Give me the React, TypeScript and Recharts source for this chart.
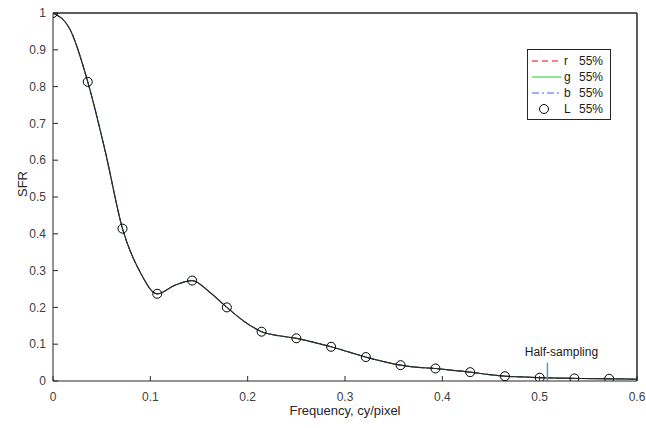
import { ComposedChart, Line, Scatter, XAxis, YAxis, ReferenceLine } from "recharts";

// --- SFR curve, sampled along frequency (cy/pixel) ---
const freq = [
  0, 0.0179, 0.0357, 0.0536, 0.0714, 0.0893, 0.1071, 0.125, 0.1429, 0.1607,
  0.1786, 0.1964, 0.2143, 0.2321, 0.25, 0.2679, 0.2857, 0.3036, 0.3214, 0.3393,
  0.3571, 0.375, 0.3929, 0.4107, 0.4286, 0.4464, 0.4643, 0.4821, 0.5, 0.5179,
  0.5357, 0.5536, 0.5714, 0.5893, 0.6
];
const sfrL = [
  1, 0.953, 0.813, 0.625, 0.414, 0.297, 0.237, 0.26, 0.273, 0.242,
  0.2, 0.162, 0.134, 0.123, 0.116, 0.105, 0.093, 0.079, 0.065, 0.053,
  0.043, 0.037, 0.034, 0.029, 0.024, 0.018, 0.013, 0.011, 0.009, 0.008,
  0.007, 0.0065, 0.006, 0.0055, 0.005
];
// r, g, b channels sit on top of the luminance curve
const sfrR = sfrL;
const sfrG = sfrL;
const sfrB = sfrL;

// --- circle markers on the L curve ---
const markerFreq = [
  0, 0.0357, 0.0714, 0.1071, 0.1429, 0.1786, 0.2143, 0.25, 0.2857, 0.3214,
  0.3571, 0.3929, 0.4286, 0.4643, 0.5, 0.5357, 0.5714
];
const markerSfr = [
  1, 0.813, 0.414, 0.237, 0.273, 0.2, 0.134, 0.116, 0.093, 0.065,
  0.043, 0.034, 0.024, 0.013, 0.009, 0.007, 0.006
];

const xTicks = [0, 0.1, 0.2, 0.3, 0.4, 0.5, 0.6];
const yTicks = [0, 0.1, 0.2, 0.3, 0.4, 0.5, 0.6, 0.7, 0.8, 0.9, 1];
const halfSampling = 0.508;
const legendItems = [
  { key: "r", label: "r", pct: "55%" },
  { key: "g", label: "g", pct: "55%" },
  { key: "b", label: "b", pct: "55%" },
  { key: "L", label: "L", pct: "55%" }
];

const curveRows = freq.map((f, i) => ({ f, r: sfrR[i], g: sfrG[i], b: sfrB[i], L: sfrL[i] }));
const markerRows = markerFreq.map((f, i) => ({ f, L: markerSfr[i] }));

const FONT = "'Liberation Sans', Arial, Helvetica, sans-serif";
const AXIS = "#262626";
const tickStyle = { fill: "#404040", fontSize: 12, fontFamily: FONT };

const Ring = (props: any) => {
  const { cx, cy } = props;
  if (cx == null || cy == null) return null;
  return <circle cx={cx} cy={cy} r={4.5} fill="none" stroke="#000" strokeWidth={1} />;
};

const LegendBox = () => (
  <div style={{ position: "absolute", left: 527, top: 49, width: 82, padding: "3px 0 2px", border: "1px solid #262626", background: "#fff", fontFamily: FONT, fontSize: 12, color: "#1a1a1a" }}>
    {legendItems.map((it) => (
      <div key={it.key} style={{ display: "flex", alignItems: "center", height: 16 }}>
        <svg width={36} height={16} style={{ flex: "none" }}>
          {it.key === "r" && <line x1={4} x2={33} y1={8} y2={8} stroke="#ff0000" strokeDasharray="6 4" />}
          {it.key === "g" && <line x1={4} x2={33} y1={8} y2={8} stroke="#22cc22" />}
          {it.key === "b" && <line x1={4} x2={33} y1={8} y2={8} stroke="#5555ff" strokeDasharray="7 3 2 3" />}
          {it.key === "L" && <circle cx={16} cy={8} r={4.5} fill="none" stroke="#000" />}
        </svg>
        <span style={{ width: 15 }}>{it.label}</span>
        <span>{it.pct}</span>
      </div>
    ))}
  </div>
);

const HalfLabel = (props: any) => {
  const { viewBox } = props;
  if (!viewBox) return null;
  return (
    <text x={viewBox.x + 14} y={viewBox.y - 7} textAnchor="middle" fill="#1a1a1a" fontSize={12} fontFamily={FONT}>
      Half-sampling
    </text>
  );
};

export default function App() {
  return (
    <div style={{ position: "relative", width: 646, height: 428, background: "#fff" }}>
      <style>{`body{margin:0}`}</style>
      <ComposedChart width={646} height={428} data={curveRows} margin={{ top: 12, right: 8, bottom: 15, left: 13 }}>
        <XAxis
          dataKey="f"
          type="number"
          domain={[0, 0.6]}
          ticks={xTicks}
          allowDataOverflow
          height={32}
          stroke={AXIS}
          tickSize={-5}
          tickMargin={16}
          tick={tickStyle}
          tickFormatter={(v: number) => `${+v.toFixed(1)}`}
          label={{ value: "Frequency, cy/pixel", position: "insideBottom", offset: -2, fill: "#262626", fontSize: 13, fontFamily: FONT }}
        />
        <XAxis xAxisId="top" dataKey="f" type="number" domain={[0, 0.6]} ticks={xTicks} orientation="top" height={1} stroke={AXIS} tickSize={-5} tick={false} />
        <YAxis
          type="number"
          domain={[0, 1]}
          ticks={yTicks}
          allowDataOverflow
          width={40}
          stroke={AXIS}
          tickSize={-5}
          tickMargin={12}
          tick={tickStyle}
          tickFormatter={(v: number) => `${+v.toFixed(1)}`}
          label={{ value: "SFR", angle: -90, position: "insideLeft", offset: 9, fill: "#262626", fontSize: 13, fontFamily: FONT }}
        />
        <YAxis yAxisId="right" type="number" domain={[0, 1]} ticks={yTicks} orientation="right" width={1} stroke={AXIS} tickSize={-5} tick={false} />

        <ReferenceLine y={1} stroke={AXIS} ifOverflow="visible" />
        <ReferenceLine x={0.6} stroke={AXIS} ifOverflow="visible" />

        <Line dataKey="r" type="monotone" stroke="#ff0000" strokeWidth={1} strokeDasharray="6 4" dot={false} isAnimationActive={false} />
        <Line dataKey="g" type="monotone" stroke="#22cc22" strokeWidth={1} dot={false} isAnimationActive={false} />
        <Line dataKey="b" type="monotone" stroke="#5555ff" strokeWidth={1} strokeDasharray="7 3 2 3" dot={false} isAnimationActive={false} />
        <Line dataKey="L" type="monotone" stroke="#2a2a2a" strokeWidth={1.2} dot={false} isAnimationActive={false} />
        <Scatter data={markerRows} dataKey="L" shape={<Ring />} isAnimationActive={false} />

        <ReferenceLine
          segment={[{ x: halfSampling, y: 0 }, { x: halfSampling, y: 0.05 }]}
          stroke="#4a9fd5"
          strokeWidth={1.5}
          label={<HalfLabel />}
        />
      </ComposedChart>
      <LegendBox />
    </div>
  );
}
